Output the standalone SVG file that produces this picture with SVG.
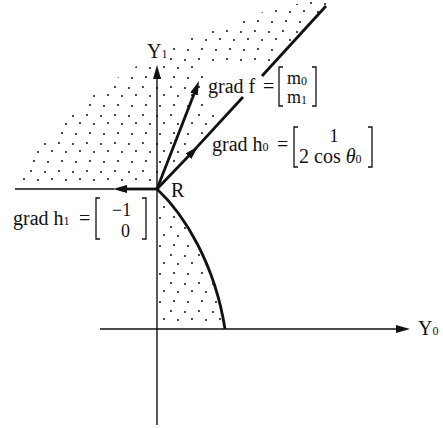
<svg xmlns="http://www.w3.org/2000/svg" width="443" height="428" viewBox="0 0 443 428">
<style>
text{font-family:"Liberation Serif","Times New Roman",serif;font-size:20px;fill:#111}
.sub{font-size:12px}
.ent{font-size:18px}
.thin{stroke:#111;stroke-width:1.4;fill:none}
.thick{stroke:#111;stroke-width:2.8;fill:none}
.br{stroke:#111;stroke-width:1.3;fill:none}
</style>
<defs>
<marker id="arr" viewBox="0 0 14 8" markerWidth="14" markerHeight="8" refX="2" refY="4" orient="auto" markerUnits="userSpaceOnUse">
<path d="M0,0 L14,4 L0,8 z" fill="#111"/>
</marker>
<pattern id="dots" width="28" height="28" patternUnits="userSpaceOnUse">
<g fill="#111">
<circle cx="3" cy="3" r="1"/>
<circle cx="17" cy="4" r="1"/>
<circle cx="10" cy="12" r="1"/>
<circle cx="24" cy="11" r="1"/>
<circle cx="6" cy="21" r="1"/>
<circle cx="20" cy="22" r="1"/>
</g>
</pattern>
<mask id="upperMask">
<path d="M155,186 L20,186 C35,118 180,16 334,-2 L326,6 Z" fill="#fff"/>
<rect x="205" y="63" width="114" height="45" fill="#000"/>
<rect x="143" y="41" width="26" height="22" fill="#000"/>
</mask>
</defs>

<g id="regions">
<rect x="0" y="0" width="443" height="428" fill="url(#dots)" mask="url(#upperMask)"/>
<path d="M159,192 C185,216 214,265 223,327 L159,327 Z" fill="url(#dots)"/>
</g>

<g id="connectors">
<line id="axis-y1" class="thin" x1="157" y1="329" x2="157" y2="77" marker-end="url(#arr)"/>
<line class="thin" x1="157" y1="329" x2="157" y2="425" stroke-width="2"/>
<line id="axis-y0" class="thin" x1="100" y1="329" x2="398" y2="329" marker-end="url(#arr)"/>
<line class="thin" x1="15" y1="189" x2="114" y2="189"/>
<line id="grad-h1" class="thick" x1="157" y1="189" x2="125" y2="189" marker-end="url(#arr)"/>
<line id="grad-f" class="thick" x1="157" y1="189" x2="194.7" y2="92.2" marker-end="url(#arr)"/>
<line id="grad-h0" class="thick" x1="157" y1="189" x2="189.8" y2="154.8" marker-end="url(#arr)"/>
<line class="thick" x1="190" y1="154.6" x2="243" y2="97"/>
<line class="thick" x1="262" y1="76" x2="326" y2="6"/>
<path id="boundary" class="thick" d="M157,189 C185,215 215,265 225,329"/>
</g>

<g id="label-y1"><text x="147" y="58">Y<tspan class="sub">1</tspan></text></g>
<g id="label-y0"><text x="418" y="335">Y<tspan class="sub">0</tspan></text></g>
<g id="label-r"><text x="171" y="197">R</text></g>

<g id="label-grad-f">
<text x="208" y="93">grad f</text>
<text x="263" y="93">=</text>
<path class="br" d="M283,67 h-4 v39 h4 M312,67 h4 v39 h-4"/>
<text class="ent" x="287" y="84">m<tspan class="sub" dy="1">0</tspan></text>
<text class="ent" x="287" y="103">m<tspan class="sub" dy="1">1</tspan></text>
</g>

<g id="label-grad-h0">
<text x="212" y="151">grad h<tspan class="sub">0</tspan></text>
<text x="277" y="151">=</text>
<path class="br" d="M298,127 h-4 v40 h4 M368,127 h4 v40 h-4"/>
<text class="ent" x="334" y="142" text-anchor="middle">1</text>
<text x="299" y="163">2 cos <tspan font-style="italic">θ</tspan><tspan class="sub">0</tspan></text>
</g>

<g id="label-grad-h1">
<text x="13" y="225">grad h<tspan class="sub">1</tspan></text>
<text x="79" y="225">=</text>
<path class="br" d="M100,198 h-4 v41 h4 M142,198 h4 v41 h-4"/>
<text class="ent" x="112" y="216">−1</text>
<text class="ent" x="121" y="237">0</text>
</g>
</svg>
